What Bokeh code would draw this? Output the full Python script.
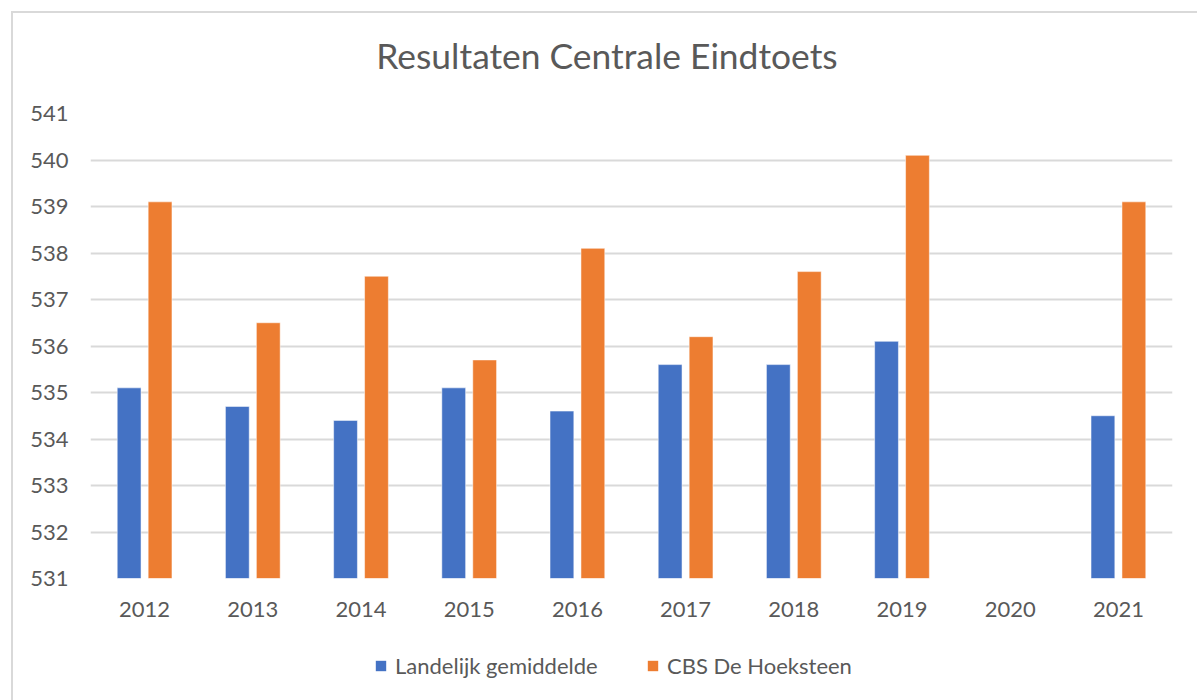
import numpy as np
from bokeh.plotting import figure
from bokeh.layouts import column
from bokeh.models import (ColumnDataSource, FactorRange, Range1d, FixedTicker,
                          Legend, LegendItem, Label)
from bokeh.transform import dodge
from bokeh.embed import file_html
from bokeh.resources import INLINE

# ---- data ----
years = ["2012", "2013", "2014", "2015", "2016", "2017", "2018", "2019", "2020", "2021"]
landelijk = [535.1, 534.7, 534.4, 535.1, 534.6, 535.6, 535.6, 536.1, np.nan, 534.5]
hoeksteen = [539.1, 536.5, 537.5, 535.7, 538.1, 536.2, 537.6, 540.1, np.nan, 539.1]
y_ticks = [531, 532, 533, 534, 535, 536, 537, 538, 539, 540, 541]
series_names = ["Landelijk gemiddelde", "CBS De Hoeksteen"]
title_text = "Resultaten Centrale Eindtoets"

BLUE = "#4472C4"
ORANGE = "#ED7D31"
TEXT = "#595959"
GRID = "#d9d9d9"
FONT = "Lato"

source = ColumnDataSource(dict(year=years, landelijk=landelijk, hoeksteen=hoeksteen))

OX, OY = 13, 13                 # page position of the canvases (margin 11 + border 2)
W = 1197 - OX
H_TITLE, H_LEG = 80, 60
H_MAIN = 700 - OY - H_TITLE - H_LEG
TOP_MAIN = OY + H_TITLE         # page y where the main canvas starts
FL, FR, FT, FB = 90, 1172, 113, 578   # plot frame on the page


def strip(top, height):
    # blank strip whose data coordinates equal page pixels
    f = figure(width=W, height=height,
               x_range=Range1d(FL, FR), y_range=Range1d(top + height, top),
               x_axis_type=None, y_axis_type=None, output_backend="svg",
               toolbar_location=None,
               min_border_left=FL - OX, min_border_right=OX + W - FR,
               min_border_top=0, min_border_bottom=0)
    f.outline_line_color = None
    f.background_fill_color = "white"
    f.border_fill_color = "white"
    return f


# ---- title strip ----
pt = strip(OY, H_TITLE)
pt.add_layout(Label(x=606.5, y=55, text=title_text,
                    text_align="center", text_baseline="alphabetic",
                    text_font=FONT, text_font_size="35.4px", text_color=TEXT))

# ---- main chart ----
p = figure(
    width=W, height=H_MAIN,
    x_range=FactorRange(*years, range_padding=0, factor_padding=0),
    y_range=Range1d(y_ticks[0], y_ticks[-1]),
    output_backend="svg", toolbar_location=None,
    min_border_left=FL - OX, min_border_right=OX + W - FR,
    min_border_top=FT - TOP_MAIN, min_border_bottom=TOP_MAIN + H_MAIN - FB,
)
p.outline_line_color = None
p.background_fill_color = "white"
p.border_fill_color = "white"

p.vbar(x=dodge("year", -0.143, range=p.x_range), top="landelijk", bottom=y_ticks[0],
       width=0.22, source=source, fill_color=BLUE, line_color="white", line_width=1, line_alpha=0.5)
p.vbar(x=dodge("year", 0.143, range=p.x_range), top="hoeksteen", bottom=y_ticks[0],
       width=0.22, source=source, fill_color=ORANGE, line_color="white", line_width=1, line_alpha=0.5)

for ax in (p.xaxis, p.yaxis):
    ax.axis_line_color = None
    ax.major_tick_line_color = None
    ax.minor_tick_line_color = None
    ax.major_label_text_font = FONT
    ax.major_label_text_font_size = "22px"
    ax.major_label_text_color = TEXT
p.yaxis.ticker = FixedTicker(ticks=y_ticks)
p.yaxis.major_label_standoff = 16
p.xaxis.major_label_standoff = 17

p.xgrid.grid_line_color = None
p.ygrid.grid_line_color = GRID
p.ygrid.grid_line_width = 2
p.ygrid.ticker = FixedTicker(ticks=y_ticks)

# ---- legend strip (swatches only; they carry no data marks) ----
pl = strip(OY + H_TITLE + H_MAIN, H_LEG)
key_src = ColumnDataSource(dict(x=[FL], top=[np.nan]))
k1 = pl.vbar(x="x", top="top", width=1, source=key_src, fill_color=BLUE, line_color=None)
k2 = pl.vbar(x="x", top="top", width=1, source=key_src, fill_color=ORANGE, line_color=None)
legend = Legend(
    items=[LegendItem(label=series_names[0], renderers=[k1]),
           LegendItem(label=series_names[1], renderers=[k2])],
    orientation="horizontal", location=(374 - FL, 21),
    glyph_width=13, glyph_height=13, label_standoff=8, spacing=39, label_width=212,
    padding=0, margin=0, border_line_color=None, background_fill_alpha=0,
    label_text_font=FONT, label_text_font_size="22px", label_text_color=TEXT,
)
pl.add_layout(legend)

layout = column(pt, p, pl, spacing=0, margin=(11, 0, 0, 11),
                styles={"border-top": "2px solid #d9d9d9", "border-left": "2px solid #d9d9d9"})

open("out.html", "w").write(file_html(layout, INLINE))
